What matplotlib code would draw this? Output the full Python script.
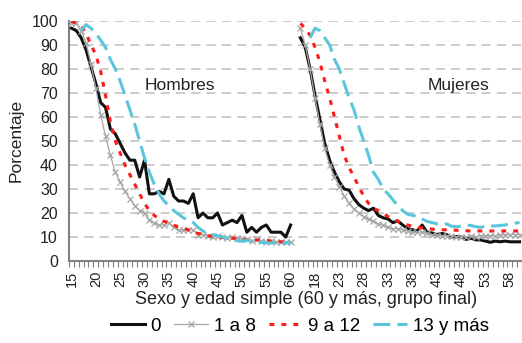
import numpy as np
import matplotlib
matplotlib.use("Agg")
import matplotlib.pyplot as plt
from matplotlib.lines import Line2D

plt.rcParams["font.family"] = ["Liberation Sans", "DejaVu Sans"]

# Ages 15..60 for each sex; one empty slot between the two blocks
AGES = list(range(15, 61))
SERIES_NAMES = ["0", "1 a 8", "9 a 12", "13 y más"]

# Hombres (ages 15..60)
men_0 = [97, 96, 93, 88, 81, 74, 66, 64, 55, 53, 49, 45, 42, 42, 35, 42, 28, 28, 29, 28,
         34, 27, 25, 25, 24, 28, 18, 20, 18, 18, 20, 15, 16, 17, 16, 19, 12, 14, 12, 14,
         15, 12, 12, 12, 10, 15]
men_1_8 = [99, 99, 96, 91, 82, 72, 61, 52, 44, 37, 33, 29, 26, 23, 21, 20, 17, 16, 15, 15,
           16, 14, 13, 13, 13, 13, 11, 11, 10.5, 10, 10.5, 10, 9.5, 10, 9.5, 9, 9, 8.5, 9, 8.5,
           8, 8.5, 8, 8, 8, 8]
men_9_12 = [100, 99, 98, 95, 90, 86, 79, 69, 58, 50, 45, 40, 36, 32, 28, 24, 21, 19, 17.5, 16.5,
            16, 15, 14, 13.5, 13, 12, 11.5, 11, 10.5, 10.3, 10, 9.8, 9.6, 9.5, 9.2, 9, 8.7, 8.5, 8.7, 8.8,
            8.6, 8.3, 8.2, 8, 8, 8]
men_13 = [np.nan, np.nan, 96, 98.5, 97, 95, 92, 89, 84, 80, 75, 69, 63, 57, 50, 43, 37, 32, 28, 25,
          23, 21, 19.5, 18, 17, 16, 14, 12.5, 11.5, 11, 10.5, 10, 9.5, 9, 8.5, 8.2, 8.6, 8.2, 8, 7.8,
          7.6, 7.5, 7.5, 7.5, 7.5, 7.5]

# Mujeres (ages 15..60)
women_0 = [93, 89, 80, 69, 59, 49, 42, 37, 33, 30, 29.5, 26, 23.5, 22, 21, 22, 19, 18, 17.5, 16,
           16.7, 15, 13.5, 13, 12.5, 15, 12, 11.7, 11, 11.5, 11, 10, 10.2, 10, 9, 9.5, 8.8, 8.8, 8.3, 7.8,
           8.3, 8, 8.3, 8, 8, 8]
women_1_8 = [97, 90, 80, 68, 57, 47, 40, 35, 31, 27, 24, 21.5, 20, 18.5, 17.5, 16.5, 15.5, 15, 14, 13.5,
             13.5, 13, 12.5, 12, 12, 12, 11.5, 11, 11, 10.5, 10.5, 10.5, 10, 10, 10, 10.5, 10, 10.5, 10.5, 10.5,
             10.5, 11, 11, 11, 11, 11]
women_9_12 = [99, 97, 94, 89, 83, 75, 68, 60, 52, 44, 39, 35, 31, 27, 24, 22, 21, 20, 18.5, 17.5,
              16.5, 15.5, 15, 14.5, 14, 13.8, 13.5, 13.3, 13, 13, 13, 13, 12.8, 12.8, 12.6, 12.5, 12.5, 12.5, 12.5, 12.5,
              12.5, 12.5, 12.5, 12.5, 12.5, 12.5]
women_13 = [np.nan, np.nan, 93, 97, 96, 93, 90, 84, 80, 74, 68, 63, 56, 50, 44, 37, 34, 30, 28, 25.5,
            23, 21, 19.5, 19, 18.7, 17.5, 16.5, 16, 15.5, 15, 15.5, 14.5, 14.3, 14.5, 15, 14.8, 14.3, 14, 14.5, 14.6,
            14.6, 14.8, 15, 15.5, 15.8, 16]

tick_labels = [str(a) for a in range(15, 61, 5)] + [str(a) for a in range(18, 61, 5)]


def join(men, women):
    return np.array(list(men) + [np.nan] + list(women), dtype=float)


series = [join(men_0, women_0), join(men_1_8, women_1_8),
          join(men_9_12, women_9_12), join(men_13, women_13)]
x = np.arange(len(series[0]))

fig = plt.figure(figsize=(5.22, 3.43), dpi=100, facecolor="white")
ax = fig.add_axes([69 / 522, 1 - 261 / 343, 453 / 522, 240 / 343])

styles = [
    dict(color="#111111", linewidth=2.2, linestyle="-", zorder=3),
    dict(color="#a6a6a6", linewidth=0.9, linestyle="-", marker="x", markersize=3.8,
         markeredgewidth=0.9, zorder=4),
    dict(color="#ff1a1a", linewidth=2.2, linestyle=(0, (1.6, 2.3)), zorder=5),
    dict(color="#5bc6db", linewidth=2.2, linestyle=(0, (5.5, 2.3)), zorder=6),
]
for y, st, name in zip(series, styles, SERIES_NAMES):
    ax.plot(x, y, label=name, **st)

ax.set_ylim(0, 100)
ax.set_xlim(-0.5, 90.7)
ax.set_yticks(range(0, 101, 10))
ax.grid(axis="y", color="#bfbfbf", linewidth=1.1, linestyle=(0, (6, 4)))
ax.set_axisbelow(True)

# labels every five categories, tick marks at every category boundary
label_pos = list(range(0, 46, 5)) + list(range(50, 93, 5))
ax.set_xticks(label_pos[:len(tick_labels)])
ax.set_xticklabels(tick_labels, rotation=90, fontsize=10.5)
ax.set_xticks(np.arange(-0.5, 93, 1), minor=True)
ax.tick_params(axis="x", which="major", length=0, pad=7, colors="#222222")
ax.tick_params(axis="x", which="minor", length=4, width=0.8, color="#808080")
ax.tick_params(axis="y", length=0, pad=8, labelsize=11.5, colors="#222222")

for side in ["top", "right"]:
    ax.spines[side].set_visible(False)
for side in ["left", "bottom"]:
    ax.spines[side].set_color("#808080")
    ax.spines[side].set_linewidth(1.5)

ax.text(22.2, 73.3, "Hombres", fontsize=12.5, ha="center", va="center", color="#222222")
ax.text(79.4, 73.3, "Mujeres", fontsize=12.5, ha="center", va="center", color="#222222")

fig.text(306 / 522, 1 - 300 / 343, "Sexo y edad simple (60 y más, grupo final)",
         fontsize=13, ha="center", va="center", color="#222222")
fig.text(16 / 522, 1 - 140 / 343, "Porcentaje", fontsize=12.5, rotation=90,
         ha="center", va="center", color="#222222")

handles = [Line2D([], [], **st) for st in styles]
fig.legend(handles, SERIES_NAMES, loc="center", bbox_to_anchor=(300 / 522, 1 - 326 / 343),
           ncol=4, frameon=False, fontsize=13.5, handlelength=1.8, handletextpad=0.3,
           columnspacing=0.7, borderaxespad=0, borderpad=0)

fig.savefig("out.png", dpi=100, facecolor="white")
